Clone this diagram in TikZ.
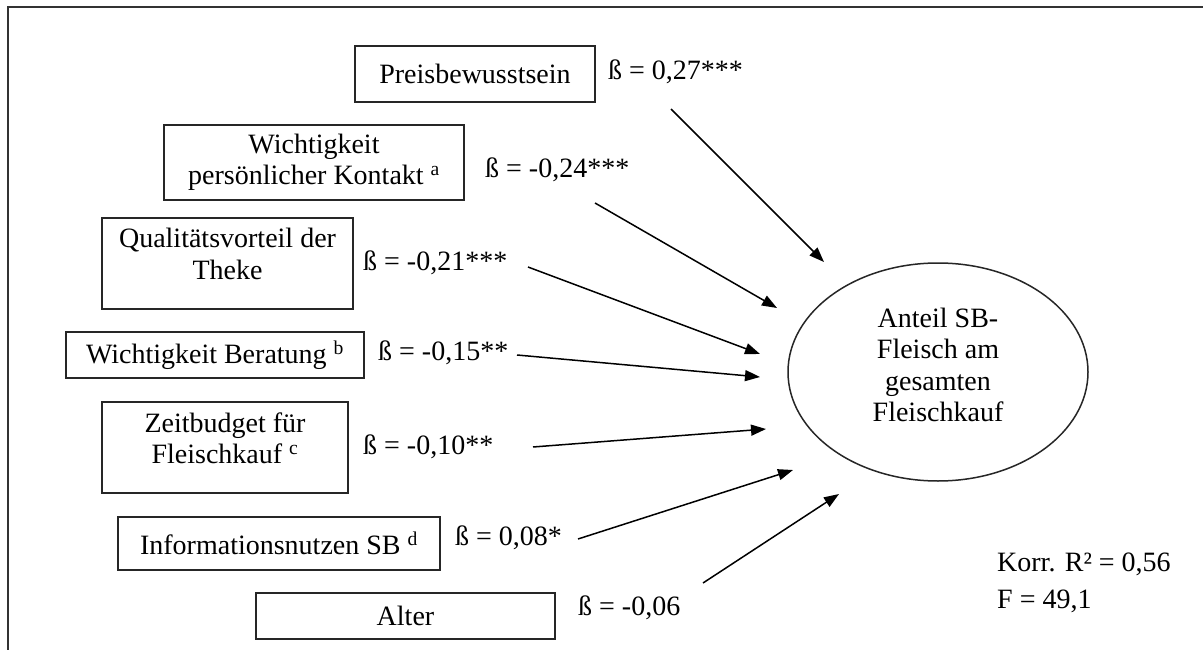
\documentclass[tikz,border=0pt]{standalone}
\usepackage{fontspec}
\setmainfont{Liberation Serif}
\usetikzlibrary{arrows.meta,shapes.geometric}
\begin{document}
\begin{tikzpicture}[x=1pt,y=-1pt,
  every node/.style={font=\fontsize{28}{31.5}\selectfont},
  box/.style={draw=black!85, line width=1.6pt, inner sep=0pt, align=center},
  beta/.style={anchor=west, inner sep=0pt},
  pfeil/.style={line width=1.5pt, -{Triangle[length=15pt,width=11pt]}},
  ziel/.style={draw=black!85, line width=1.5pt, ellipse, inner sep=0pt, align=center}
]
\useasboundingbox (0,0) rectangle (1203,650);
\fill[white] (0,0) rectangle (1203,650);
\draw[line width=2.2pt, black!80] (8,650) -- (8,7) -- (1203,7);

% predictor boxes
\node[box, minimum width=240pt, minimum height=56pt] (preis) at (475,74) {Preisbewusstsein};
\node[box, minimum width=300pt, minimum height=75pt] (kontakt) at (314,162.5) {Wichtigkeit\\persönlicher Kontakt \textsuperscript{a}};
\node[box, minimum width=251pt, minimum height=91pt, text depth=19pt] (qual) at (227.5,263.5) {Qualitätsvorteil der\\Theke};
\node[box, minimum width=298pt, minimum height=46pt] (berat) at (215,355) {Wichtigkeit Beratung \textsuperscript{b}};
\node[box, minimum width=246pt, minimum height=91pt, text depth=19pt] (zeit) at (225,447.5) {Zeitbudget für\\Fleischkauf \textsuperscript{c}};
\node[box, minimum width=322pt, minimum height=53pt] (info) at (279,543.5) {Informationsnutzen SB \textsuperscript{d}};
\node[box, minimum width=299pt, minimum height=46pt] (alter) at (405.5,616) {Alter};

% target
\node[ziel, minimum width=300pt, minimum height=218pt,
  label={[name=anteiltext, align=center, yshift=7pt]center:{Anteil SB-\\Fleisch am\\gesamten\\Fleischkauf}}] (anteil) at (938,372) {};

% coefficients
\node[beta] (b1) at (608,72) {ß = 0,27***};
\node[beta] (b2) at (485,170) {ß = -0,24***};
\node[beta] (b3) at (363,263) {ß = -0,21***};
\node[beta] (b4) at (378,353) {ß = -0,15**};
\node[beta] (b5) at (363,447) {ß = -0,10**};
\node[beta] (b6) at (455,538) {ß = 0,08*};
\node[beta] (b7) at (578,608) {ß = -0,06};

% fit statistics
\node[anchor=west, inner sep=0pt, align=left] (fit) at (997,583) {Korr. R² = 0,56\\[5pt]F = 49,1};

% arrows
\coordinate (a1s) at (671,109); \coordinate (a1e) at (824,262);
\coordinate (a2s) at (595,203); \coordinate (a2e) at (777,308);
\coordinate (a3s) at (528,267); \coordinate (a3e) at (760,354);
\coordinate (a4s) at (517,355); \coordinate (a4e) at (760,377);
\coordinate (a5s) at (533,447); \coordinate (a5e) at (766,429);
\coordinate (a6s) at (578,539); \coordinate (a6e) at (793,470);
\coordinate (a7s) at (703,583); \coordinate (a7e) at (839,494);
\draw[pfeil] (a1s) -- (a1e);
\draw[pfeil] (a2s) -- (a2e);
\draw[pfeil] (a3s) -- (a3e);
\draw[pfeil] (a4s) -- (a4e);
\draw[pfeil] (a5s) -- (a5e);
\draw[pfeil] (a6s) -- (a6e);
\draw[pfeil] (a7s) -- (a7e);
\end{tikzpicture}
\end{document}
